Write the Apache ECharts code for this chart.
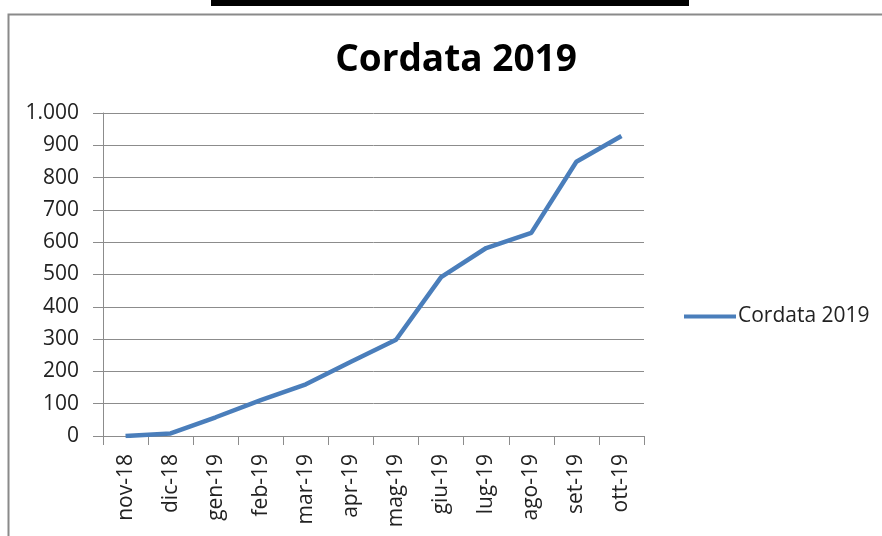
<!DOCTYPE html>
<html>
<head>
<meta charset="utf-8">
<script src="https://cdn.jsdelivr.net/npm/echarts@6/dist/echarts.min.js"></script>
<style>
html,body{margin:0;padding:0;background:#fff;}
#c{width:882px;height:536px;}
</style>
</head>
<body>
<div id="c"></div>
<script>
var categories = ['nov-18','dic-18','gen-19','feb-19','mar-19','apr-19','mag-19','giu-19','lug-19','ago-19','set-19','ott-19'];
var values = [0, 8, 58, 111, 160, 230, 298, 492, 582, 629, 849, 929];
var seriesName = 'Cordata 2019';
var titleText = 'Cordata 2019';
var yMin = 0, yMax = 1000, yStep = 100;

var chart = echarts.init(document.getElementById('c'));
var FONT = 'Open Sans';
chart.setOption({
  backgroundColor: '#fff',
  animation: false,
  title: {
    text: titleText,
    left: 451, top: 37, textAlign: 'center',
    textStyle: {fontFamily: FONT, fontWeight: 'bold', fontSize: 37, color: '#000'}
  },
  legend: {
    data: [seriesName],
    left: 679, top: 301,
    itemWidth: 52, itemHeight: 4, itemGap: 4,
    icon: 'rect',
    textStyle: {fontFamily: FONT, fontSize: 21, color: '#222', padding: [0,0,0,-3]}
  },
  grid: {left: 103, top: 113, width: 541, height: 323, containLabel: false},
  xAxis: {
    type: 'category',
    data: categories,
    boundaryGap: true,
    axisLine: {lineStyle: {color: '#8c8c8c', width: 1}},
    axisTick: {show: true, interval: 0, length: 9, lineStyle: {color: '#8c8c8c'}},
    axisLabel: {interval: 0, rotate: 90, margin: 18, fontFamily: FONT, fontSize: 21, color: '#222'}
  },
  yAxis: {
    type: 'value',
    min: yMin, max: yMax, interval: yStep,
    axisLine: {show: true, lineStyle: {color: '#8c8c8c', width: 1}},
    axisTick: {show: true, length: 10, lineStyle: {color: '#8c8c8c'}},
    splitLine: {show: true, lineStyle: {color: '#8c8c8c', width: 1}},
    axisLabel: {
      margin: 24, fontFamily: FONT, fontSize: 21, color: '#222',
      formatter: function (v) { return v >= 1000 ? Math.floor(v/1000) + '.' + String(v%1000).padStart(3,'0') : String(v); }
    }
  },
  series: [{
    name: seriesName,
    type: 'line',
    data: values,
    symbol: 'none',
    smooth: false,
    lineStyle: {color: '#4a7ebb', width: 4.5},
    itemStyle: {color: '#4a7ebb'}
  }],
  graphic: [
    {type: 'rect', shape: {x: 211, y: 0, width: 478, height: 6}, style: {fill: '#000'}},
    {type: 'polyline', shape: {points: [[8.5, 540], [8.5, 14.5], [890, 14.5]]}, style: {stroke: '#8a8a8a', lineWidth: 2, fill: null}}
  ]
});
</script>
</body>
</html>
